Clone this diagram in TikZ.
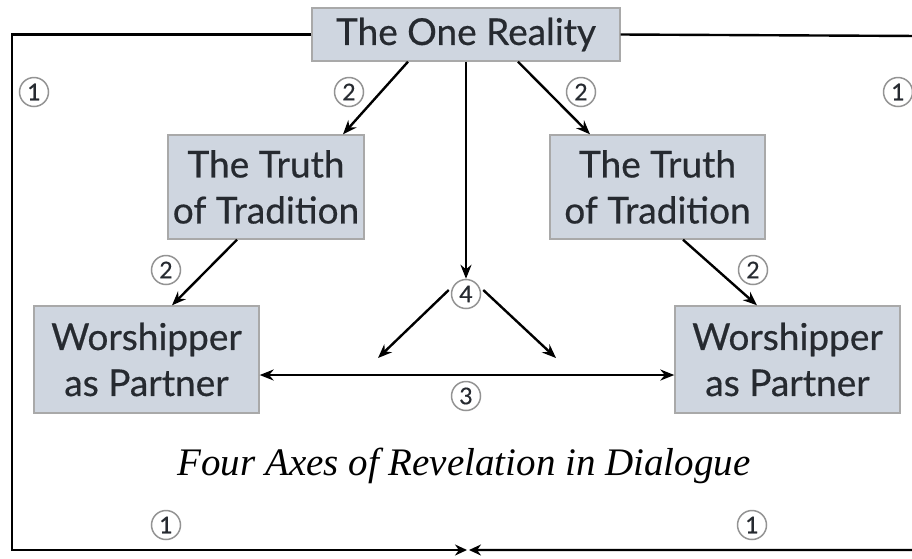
\documentclass[tikz,border=0pt]{standalone}
\usepackage{fontspec}
\setmainfont{Lato}[BoldFont=Lato,BoldFeatures={FakeBold=0.5}]
\newfontfamily\capfont{Liberation Serif}
\usetikzlibrary{arrows.meta}
\definecolor{boxfill}{HTML}{CFD6E0}
\definecolor{boxline}{HTML}{A9A9A9}
\definecolor{txt}{HTML}{262A30}
\begin{document}
\begin{tikzpicture}[x=1pt,y=-1pt,
  box/.style={draw=boxline,fill=boxfill,line width=1.4pt,text=txt,font=\bfseries\fontsize{37}{46}\selectfont,align=center,inner sep=0pt},
  num/.style={circle,draw=gray!85,line width=1.5pt,minimum size=29pt,inner sep=0pt,text=txt,font=\bfseries\fontsize{23}{23}\selectfont},
  conn/.style={line width=2.4pt,-{Stealth[length=14pt,width=11pt]}},
  frame/.style={line width=2.4pt}]
\useasboundingbox (0,0) rectangle (912,558);
\node[box,minimum width=308pt,minimum height=53pt] (real) at (466,34.5) {The One Reality};
\node[box,minimum width=196pt,minimum height=104pt] (tl) at (266,187) {The Truth\\of Tradition};
\node[box,minimum width=215pt,minimum height=104pt] (tr) at (657.5,187) {The Truth\\of Tradition};
\node[box,minimum width=225pt,minimum height=107pt] (wl) at (146.5,359.5) {Worshipper\\as Partner};
\node[box,minimum width=225pt,minimum height=107pt] (wr) at (787.5,359.5) {Worshipper\\as Partner};
\node[num] (n1a) at (34,92) {1};
\node[num] (n1b) at (898,92) {1};
\node[num] (n1c) at (166,525) {1};
\node[num] (n1d) at (752,525) {1};
\node[num] (n2a) at (349,92) {2};
\node[num] (n2b) at (581,92) {2};
\node[num] (n2c) at (166,270) {2};
\node[num] (n2d) at (753,270) {2};
\node[num] (n3) at (466,396) {3};
\node[num] (n4) at (466,294) {4};
\node[text=black,font=\capfont\itshape\fontsize{39}{46}\selectfont] (cap) at (464,466) {Four Axes of Revelation in Dialogue};
\coordinate (bm) at (468,550);
\coordinate (la) at (378,358);
\coordinate (ra) at (556,358);
% frame
\draw[frame,-{Stealth[length=12pt,width=11pt]}] (real.west) -- (12,34.5) -- (12,550) -- ([xshift=-1pt]bm);
\draw[frame,-{Stealth[length=12pt,width=11pt]}] (real.east) -- (920,36) -- (920,550) -- ([xshift=1pt]bm);
% connectors
\draw[conn] (real.south -| 408,0) -- (tl.north -| 343,0);
\draw[conn] (real.south -| 518,0) -- (tr.north -| 590,0);
\draw[conn] (real.south) -- (n4.north);
\draw[conn] (tl.south -| 237,0) -- (wl.north -| 172,0);
\draw[conn] (tr.south -| 683,0) -- (wr.north -| 757,0);
\draw[conn] (n4.west |- 0,290) ++(-2,0) -- (la);
\draw[conn] (n4.east |- 0,290) ++(2,0) -- (ra);
\draw[line width=2.4pt,{Stealth[length=14pt,width=11pt]}-{Stealth[length=14pt,width=11pt]}] (wl.east |- 0,375) -- (wr.west |- 0,375);
\end{tikzpicture}
\end{document}
